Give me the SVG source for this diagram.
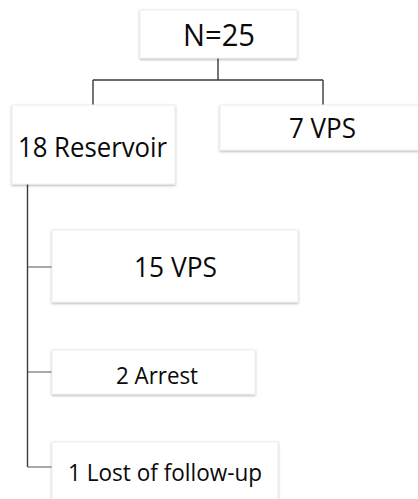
<svg xmlns="http://www.w3.org/2000/svg" width="418" height="499" viewBox="0 0 418 499">
<defs>
<filter id="sh" x="-5%" y="-10%" width="110%" height="125%">
<feDropShadow dx="0" dy="1.2" stdDeviation="0.8" flood-color="#000" flood-opacity="0.3"/>
</filter>
</defs>
<style>
.box{fill:#fff;stroke:#eeeeee;stroke-width:1;filter:url(#sh)}
.t{font-family:"Open Sans","Liberation Sans",sans-serif;fill:#0a0a0a}
.c{fill:none;stroke:#3a3a3a;stroke-width:1.4}
.b{fill:none;stroke:#555;stroke-width:1.2}
</style>
<rect width="418" height="499" fill="#fff"/>
<g id="connectors">
<path class="c" d="M218 58V80M93 80H323M93 80V105M323 80V105"/>
<path class="c" d="M27.5 184V467"/>
<path class="b" d="M27.5 267H52M27.5 372H52M27.5 467H52"/>
</g>
<g id="n25">
<rect class="box" x="140" y="10" width="157" height="48"/>
<text class="t" x="183" y="46" font-size="31" textLength="72" lengthAdjust="spacingAndGlyphs">N=25</text>
</g>
<g id="reservoir">
<rect class="box" x="12" y="105" width="163" height="79"/>
<text class="t" x="18" y="157" font-size="28" textLength="149" lengthAdjust="spacingAndGlyphs">18 Reservoir</text>
</g>
<g id="vps7">
<rect class="box" x="220" y="105" width="200" height="45"/>
<text class="t" x="289" y="138" font-size="28" textLength="67" lengthAdjust="spacingAndGlyphs">7 VPS</text>
</g>
<g id="vps15">
<rect class="box" x="52" y="230" width="246" height="72"/>
<text class="t" x="134" y="277" font-size="27" textLength="83" lengthAdjust="spacingAndGlyphs">15 VPS</text>
</g>
<g id="arrest">
<rect class="box" x="52" y="350" width="203" height="44"/>
<text class="t" x="116" y="384" font-size="23" textLength="82" lengthAdjust="spacingAndGlyphs">2 Arrest</text>
</g>
<g id="lost">
<rect class="box" x="52" y="442" width="226" height="70"/>
<text class="t" x="68" y="481" font-size="24" textLength="194" lengthAdjust="spacingAndGlyphs">1 Lost of follow-up</text>
</g>
</svg>
